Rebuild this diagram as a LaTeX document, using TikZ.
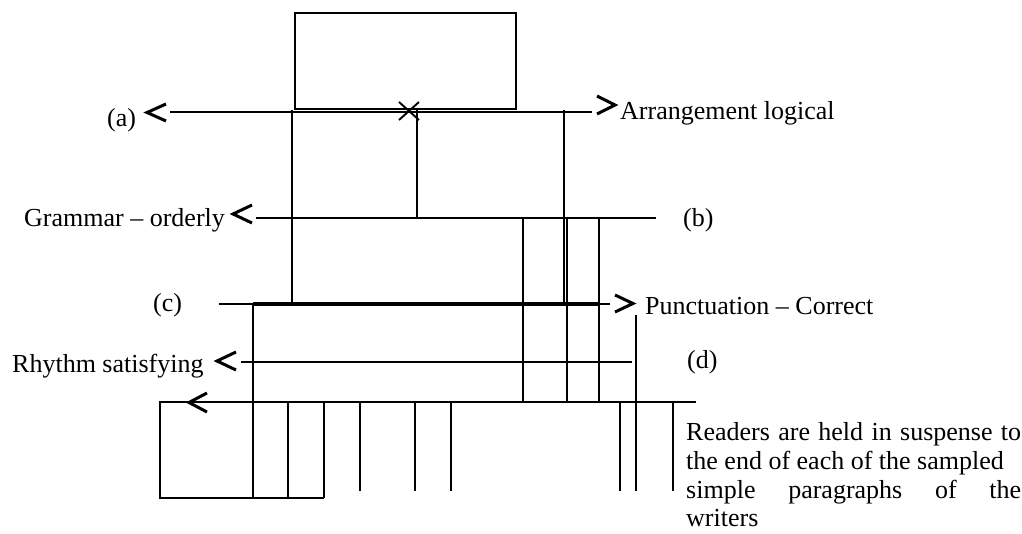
\documentclass[tikz,border=0pt]{standalone}
\usepackage{fontspec}
\setmainfont{Liberation Serif}
\begin{document}
\begin{tikzpicture}[x=1pt,y=-1pt,
  hline/.style={line width=2.9pt},
  vline/.style={line width=1.9pt},
  chev/.style={line width=3pt, miter limit=10},
  lbl/.style={anchor=base west, inner sep=0pt, font=\fontsize{26}{28}\selectfont}]
\useasboundingbox (0,0) rectangle (1022,534);
\fill[white] (0,0) rectangle (1022,534);

% top rectangle
\draw[vline] (295,13) rectangle (516,109);
% line (a)
\coordinate (aL) at (170,112); \coordinate (aR) at (592,112);
\draw[hline] (aL) -- (aR);
\draw[chev] (166,104) -- (147,112.5) -- (166,121);
\draw[chev] (597,96) -- (615,105) -- (597,114);
% cross mark
\draw[vline] (399,102) -- (419,120) (399,120) -- (419,102);
% verticals from (a)
\draw[vline] (292,110) -- (292,304);
\draw[vline] (417,110) -- (417,218);
\draw[vline] (564,110) -- (564,304);
% line (b)
\coordinate (bL) at (256,218); \coordinate (bR) at (656,218);
\draw[hline] (bL) -- (bR);
\draw[chev] (252,205) -- (233,214) -- (252,223);
% verticals from (b)
\draw[vline] (523,218) -- (523,402);
\draw[vline] (567,218) -- (567,402);
\draw[vline] (599,218) -- (599,402);
% line (c)
\coordinate (cL) at (219,304); \coordinate (cR) at (610,304);
\draw[hline] (cL) -- (cR);
\draw[line width=3.5pt] (253,304) -- (600,304);
\draw[chev] (615,295) -- (633,303.5) -- (615,312);
% line (d)
\coordinate (dL) at (241,362); \coordinate (dR) at (632,362);
\draw[hline] (dL) -- (dR);
\draw[chev] (236,352) -- (217,361) -- (236,370);
% long verticals
\draw[vline] (253,304) -- (253,498);
\draw[vline] (636,315) -- (636,491);
% bottom line
\coordinate (eL) at (189,402); \coordinate (eR) at (696,402);
\draw[hline] (eL) -- (eR);
\draw[chev] (207,393) -- (189,402.5) -- (207,412);
% bottom-left box
\draw[vline] (189,402) -- (160,402) -- (160,498) -- (324,498);
\draw[vline] (288,402) -- (288,498);
\draw[vline] (324,402) -- (324,498);
\foreach \x in {360,415,451,620,673} \draw[vline] (\x,402) -- (\x,491);

% labels
\node[lbl] (la) at (107,127) {(a)};
\node[lbl] (larr) at (620,120) {Arrangement logical};
\node[lbl] (lgram) at (24,227) {Grammar – orderly};
\node[lbl] (lb) at (683,227) {(b)};
\node[lbl] (lc) at (153,312) {(c)};
\node[lbl] (lpunc) at (645,315) {Punctuation – Correct};
\node[lbl] (lrhy) at (12,372) {Rhythm satisfying};
\node[lbl] (ld) at (687,368) {(d)};
\node[lbl] (p1) at (686,440) {\makebox[335pt][s]{Readers are held in suspense to}};
\node[lbl] (p2) at (686,469) {the end of each of the sampled};
\node[lbl] (p3) at (686,498) {\makebox[335pt][s]{simple paragraphs of the}};
\node[lbl] (p4) at (686,526) {writers};
\end{tikzpicture}
\end{document}
